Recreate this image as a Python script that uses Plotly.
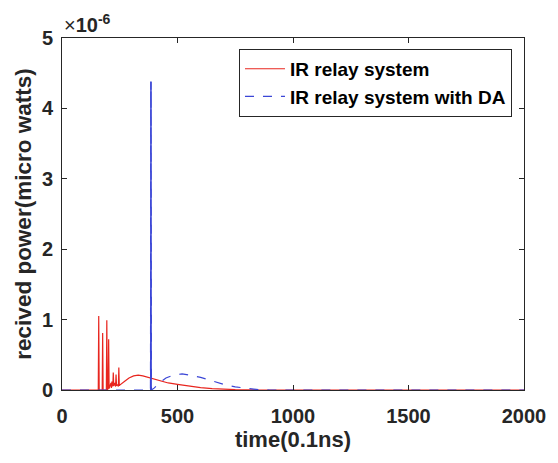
import plotly.graph_objects as go

# Data (power in units of 1e-6 W)
red_t = [0, 157, 159, 161, 174, 176, 178, 192, 194, 196, 200, 202, 204, 208, 212, 214, 216, 220, 222, 224,
         228, 232, 234, 236, 240, 244, 246, 248, 250, 270, 290, 310, 330, 350, 385, 420, 460, 500,
         550, 600, 650, 700, 750, 800, 850, 2000]
red_p = [0, 0, 1.05, 0, 0, 0.81, 0, 0, 0.99, 0, 0.02, 0.72, 0.02, 0.06, 0.1, 0.03, 0.12, 0.05, 0.25, 0.06,
         0.1, 0.05, 0.22, 0.06, 0.08, 0.05, 0.32, 0.06, 0.07, 0.12, 0.17, 0.2, 0.21, 0.2, 0.17, 0.14, 0.1, 0.08,
         0.055, 0.035, 0.02, 0.01, 0.005, 0.002, 0, 0]

blue_t = [0, 383, 385, 387, 400, 420, 450, 480, 520, 560, 600, 650, 700, 750, 800, 850, 900, 2000]
blue_p = [0, 0, 4.38, 0, 0.03, 0.1, 0.17, 0.21, 0.23, 0.21, 0.18, 0.13, 0.08, 0.045, 0.02, 0.005, 0, 0]

x_ticks = [0, 500, 1000, 1500, 2000]
y_ticks = [0, 1, 2, 3, 4, 5]

FONT = "Liberation Sans"
INK = "#262626"

fig = go.Figure()
fig.add_trace(go.Scatter(x=red_t, y=red_p, mode="lines", name="<b>IR relay system</b>",
                         line=dict(color="#e8261f", width=1.2)))
fig.add_trace(go.Scatter(x=blue_t, y=blue_p, mode="lines", name="<b>IR relay system with DA</b>",
                         line=dict(color="#3b46d6", width=1.2, dash="dash")))
# spike of the DA series drawn solid (vertical line appears continuous)
spk = slice(1, 4)
fig.add_trace(go.Scatter(x=blue_t[spk], y=blue_p[spk], mode="lines", showlegend=False,
                         line=dict(color="#3b46d6", width=1)))

axis_common = dict(showline=True, linecolor=INK, linewidth=1, mirror="ticks",
                   ticks="inside", ticklen=5, tickcolor=INK, showgrid=False, zeroline=False,
                   tickfont=dict(family=FONT, size=20, color=INK))

fig.update_xaxes(range=[0, 2000], tickvals=x_ticks,
                 ticktext=[f"<b>{v}</b>" for v in x_ticks], ticklabelstandoff=8,
                 title=dict(text="<b>time(0.1ns)</b>", font=dict(family=FONT, size=22, color=INK),
                            standoff=4),
                 **axis_common)
fig.update_yaxes(range=[0, 5], tickvals=y_ticks,
                 ticktext=[f"<b>{v}</b>" for v in y_ticks], ticklabelstandoff=4,
                 title=dict(text="<b>recived power(micro watts)</b>",
                            font=dict(family=FONT, size=22.5, color=INK), standoff=4),
                 **axis_common)

fig.add_annotation(xref="paper", yref="paper", x=0, y=1.0, xanchor="left", yanchor="bottom",
                   text="×<b>10</b><sup><b>-6</b></sup>", showarrow=False,
                   font=dict(family=FONT, size=20, color=INK), yshift=0)

fig.update_layout(
    width=558, height=463,
    margin=dict(l=62, r=28, t=38, b=73),
    plot_bgcolor="white", paper_bgcolor="white",
    legend=dict(x=0.974, y=0.969, xanchor="right", yanchor="top",
                bordercolor=INK, borderwidth=1, bgcolor="white",
                font=dict(family=FONT, size=19, color="#000000"),
                tracegroupgap=0, itemwidth=40),
)

fig.write_html("out.html")
